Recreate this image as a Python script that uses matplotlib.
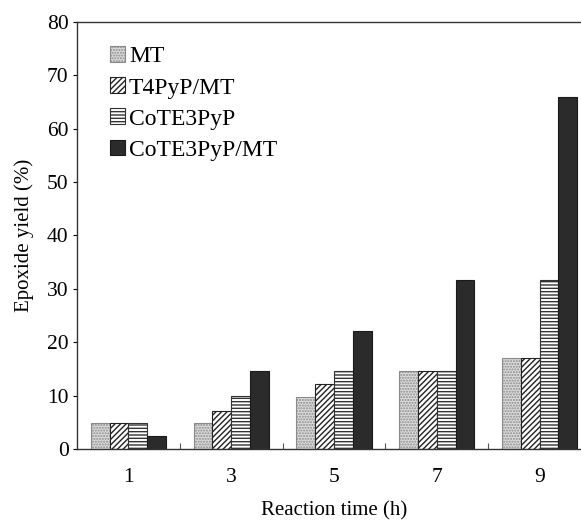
import matplotlib
matplotlib.use("Agg")
import matplotlib.pyplot as plt
import numpy as np

plt.rcParams['font.family'] = ['Liberation Serif', 'DejaVu Serif']

times = ["1", "3", "5", "7", "9"]
mt = [4.9, 4.9, 9.8, 14.6, 17.0]
t4pyp_mt = [4.9, 7.1, 12.2, 14.6, 17.0]
cote3pyp = [4.9, 9.9, 14.6, 14.6, 31.6]
cote3pyp_mt = [2.4, 14.6, 22.1, 31.6, 66.0]

labels = ["MT", "T4PyP/MT", "CoTE3PyP", "CoTE3PyP/MT"]
series = [mt, t4pyp_mt, cote3pyp, cote3pyp_mt]

fig = plt.figure(figsize=(5.81, 5.22), dpi=100)
ax = fig.add_axes([0.1325, 0.14, 0.8847, 0.818])

x = np.arange(len(times))
w = 0.183
styles = [
    dict(color='#dcdcdc', edgecolor='#8a8a8a', hatch='......', lw=0.8),
    dict(color='white', edgecolor='#222222', hatch='//////', lw=0.8),
    dict(color='white', edgecolor='#333333', hatch='-----', lw=0.8),
    dict(color='#2b2b2b', edgecolor='#1a1a1a', hatch=None, lw=0.8),
]
for i, (vals, lab, st) in enumerate(zip(series, labels, styles)):
    ax.bar(x + (i - 1.5) * w, vals, w, label=lab, facecolor=st['color'],
           edgecolor=st['edgecolor'], hatch=st['hatch'], linewidth=st['lw'])

ax.set_xlim(-0.5, 4.5)
ax.set_ylim(0, 80)
ax.set_yticks(range(0, 81, 10))
ax.set_xticks(x)
ax.set_xticklabels(times)
ax.set_xticks(np.arange(0.5, 4.5, 1), minor=True)
ax.tick_params(axis='x', which='major', length=0, pad=14, labelsize=15.5)
ax.tick_params(axis='x', which='minor', direction='in', length=4, width=0.8, color='#555555')
ax.tick_params(axis='y', direction='out', length=3, width=0.8, labelsize=15.5, pad=3)
for s in ax.spines.values():
    s.set_linewidth(1.0)
    s.set_color('#333333')

ax.set_xlabel("Reaction time (h)", fontsize=15, labelpad=10)
ax.set_ylabel("Epoxide yield (%)", fontsize=15, labelpad=9)

ax.legend(loc='upper left', bbox_to_anchor=(0.046, 0.965), frameon=False, fontsize=17,
          handlelength=0.65, handleheight=0.65, handletextpad=0.15, labelspacing=0.42,
          borderaxespad=0)

fig.savefig("out.png", dpi=100)
